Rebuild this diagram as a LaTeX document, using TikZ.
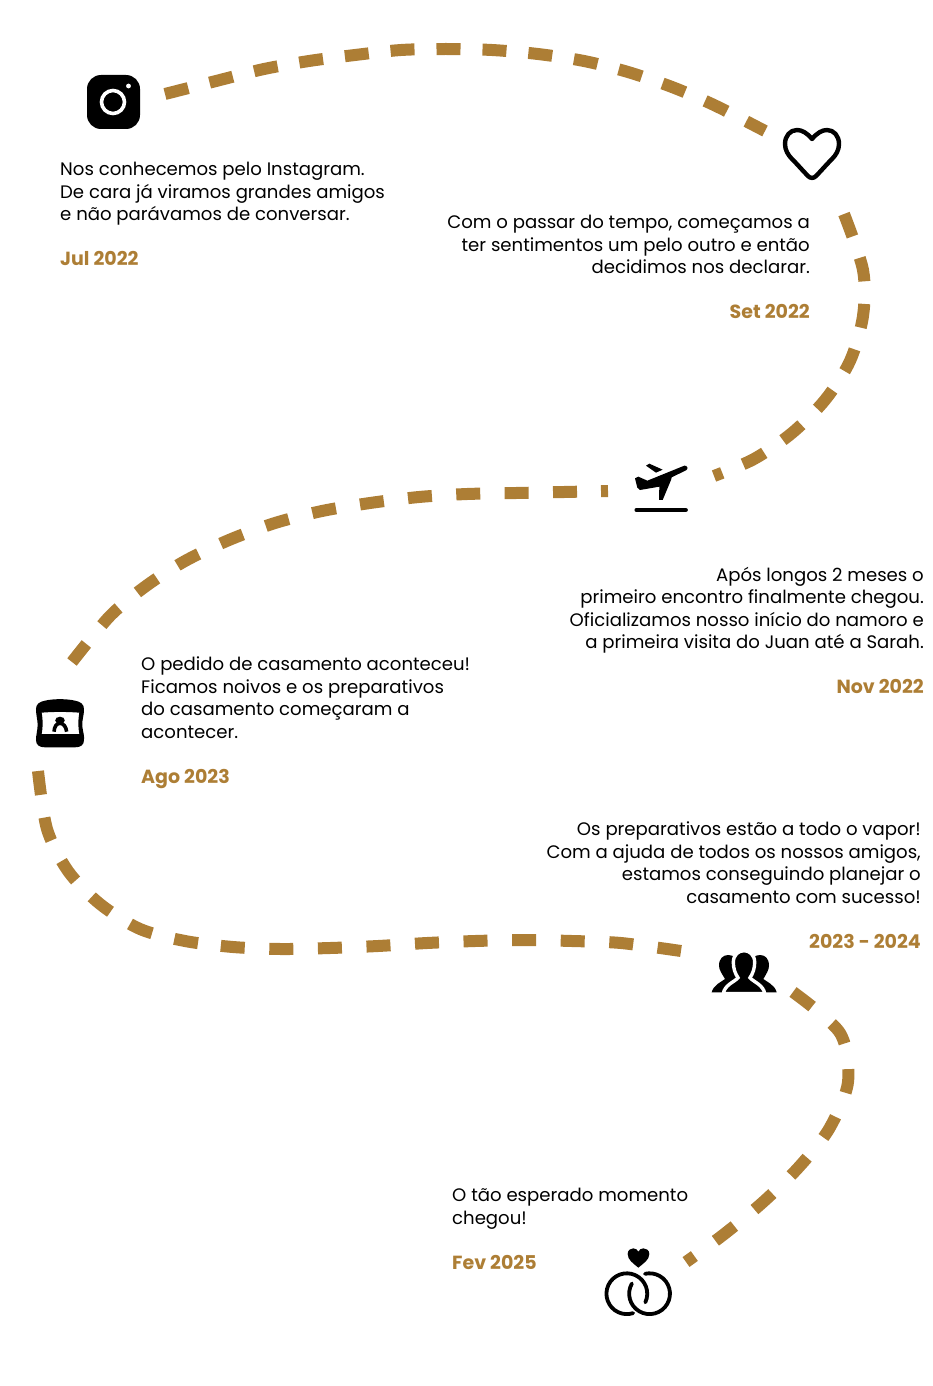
\documentclass[tikz,border=0pt]{standalone}
\usepackage{fontspec}
\setmainfont{Poppins}
\usepackage{xcolor}
\definecolor{trailgold}{HTML}{AD7E35}
\begin{document}
\begin{tikzpicture}[x=1pt,y=-1pt,line cap=butt,
  trail/.style={trailgold,line width=12pt,dash pattern=on 24pt off 22pt},
  story/.style={inner sep=0pt,font=\fontsize{18.1}{22.5}\selectfont},
  storyleft/.style={story,anchor=north west,align=left},
  storyright/.style={story,anchor=north east,align=right},
  dateleft/.style={storyleft,text=trailgold,font=\fontsize{19}{22.5}\selectfont\bfseries},
  dateright/.style={storyright,text=trailgold,font=\fontsize{19}{22.5}\selectfont\bfseries},
  icon/.style={black,line cap=round,line join=round}]
\useasboundingbox (0,0) rectangle (933,1386);
% trail
\coordinate (insta) at (165,94);
\coordinate (heart) at (765,131);
\coordinate (heartb) at (844,214);
\coordinate (plane) at (714,476);
\coordinate (planeb) at (608,491);
\coordinate (box) at (72,662);
\coordinate (boxb) at (38,771);
\coordinate (people) at (681,951);
\coordinate (peopleb) at (793,992);
\coordinate (rings) at (686,1262);
\draw[trail] plot[smooth] coordinates {(insta) (220,80) (264,69) (309,61) (355,55) (401,50) (446,49) (492,50) (538,54) (584,61) (628,72) (672,87) (714,105) (heart)};
\draw[trail,dash pattern=on 24pt off 22.6pt] plot[smooth] coordinates {(heartb) (863,270) (863,316) (850,361) (825,400) (792,433) (754,459) (plane)};
\draw[trail,dash pattern=on 7pt off 24pt on 24pt off 24.4pt on 24pt off 24.4pt on 24pt off 24.4pt on 24pt off 24.4pt on 24pt off 24.4pt on 24pt off 24.4pt on 24pt off 24.4pt on 24pt off 24.4pt on 24pt off 24.4pt on 24pt off 24.4pt on 24pt off 24.4pt on 24pt off 24.4pt on 24pt off 24.4pt] plot[smooth] coordinates {(planeb) (564,492) (516,493) (467,494) (419,497) (370,503) (322,511) (275,523) (229,540) (185,561) (146,586) (110,616) (box)};
\draw[trail,dash pattern=on 24pt off 23pt on 24pt off 23pt on 24pt off 23pt on 24pt off 23pt on 24pt off 23pt on 24pt off 23pt on 24pt off 24.6pt on 24pt off 24.6pt on 24pt off 24.6pt on 24pt off 24.6pt on 24pt off 24.6pt on 24pt off 24.6pt on 24pt off 24.6pt on 24pt off 24.6pt on 24pt off 24.6pt on 24pt off 24.6pt] plot[smooth] coordinates {(boxb) (47,829) (68,871) (100,904) (140,929) (185,941) (233,947) (281,949) (330,948) (378,946) (427,943) (475,941) (524,940) (572,941) (621,943) (people)};
\draw[trail,dash pattern=on 24pt off 26pt] plot[smooth] coordinates {(peopleb) (840,1033) (848,1082) (829,1129) (798,1168) (762,1203) (723,1235) (rings)};
% texts
\node[storyleft] (jul) at (60,162) {Nos conhecemos pelo Instagram.\\De cara já viramos grandes amigos\\e não parávamos de conversar.};
\node[dateleft] (juldate) at (60,251) {Jul 2022};
\node[storyright] (set) at (810,215) {Com o passar do tempo, começamos a\hspace{5pt}\\ter sentimentos um pelo outro e então\\decidimos nos declarar.};
\node[dateright] (setdate) at (810,304) {Set 2022};
\node[storyright] (nov) at (924,567) {Após longos 2 meses o\\primeiro encontro finalmente chegou.\\Oficializamos nosso início do namoro e\\a primeira visita do Juan até a Sarah.};
\node[dateright] (novdate) at (924,679) {Nov 2022};
\node[storyleft] (ago) at (141,657) {O pedido de casamento aconteceu!\\Ficamos noivos e os preparativos\\do casamento começaram a\\acontecer.};
\node[dateleft] (agodate) at (141,769) {Ago 2023};
\node[storyright] (prep) at (921,822) {Os preparativos estão a todo o vapor!\\Com a ajuda de todos os nossos amigos,\\estamos conseguindo planejar o\\casamento com sucesso!};
\node[dateright] (prepdate) at (921,934) {2023 - 2024};
\node[storyleft] (fev) at (452,1188) {O tão esperado momento\\chegou!};
\node[dateleft] (fevdate) at (452,1255) {Fev 2025};
% instagram
\fill[black,rounded corners=14pt] (87,75) rectangle (140,129);
\draw[white,line width=3.6pt] (113,102) circle (11.5pt);
\fill[white] (128.5,86) circle (2.4pt);
% heart
\draw[icon,line width=4.4pt] (812,139) .. controls (807,133) and (802,130) .. (797,130) .. controls (790,130) and (785,136) .. (785,144) .. controls (785,150) and (788,155) .. (792,159) .. controls (798,165) and (803,171) .. (808,176) .. controls (810,178.5) and (814,178.5) .. (816,176) .. controls (821,171) and (826,165) .. (832,159) .. controls (836,155) and (839,150) .. (839,144) .. controls (839,136) and (834,130) .. (827,130) .. controls (822,130) and (817,133) .. (812,139) -- cycle;
% plane
\begin{scope}[shift={(590,445)},x=0.3333pt,y=-0.3333pt]
\fill[icon] (135,100) -- (145,95) -- (172,107) -- (283,62) .. controls (292,60) and (296,72) .. (288,76) -- (245,97) -- (243,105) -- (218,165) -- (207,165) -- (208,125) -- (150,135) -- (142,128) -- cycle;
\fill[icon] (168,62) -- (178,56) -- (218,74) -- (198,83) -- cycle;
\draw[icon,line width=4.5pt] (140,195) -- (287,195);
\end{scope}
% ring box
\begin{scope}[shift={(20,685)},x=0.3333pt,y=-0.3333pt]
\fill[black,even odd rule] (75,47) .. controls (100,41) and (140,41) .. (165,47) .. controls (182,50) and (192,58) .. (192,72) .. controls (192,95) and (185,105) .. (187,125) .. controls (190,145) and (193,150) .. (192,165) .. controls (192,180) and (182,187) .. (165,187) -- (75,187) .. controls (58,187) and (48,180) .. (48,165) .. controls (48,150) and (52,140) .. (53,120) .. controls (53,105) and (48,90) .. (48,72) .. controls (48,58) and (58,50) .. (75,47) -- cycle
 (65,83) .. controls (100,80) and (140,80) .. (178,83) .. controls (174,105) and (174,125) .. (178,147) -- (65,147) .. controls (69,125) and (69,105) .. (65,83) -- cycle;
\fill[black] (120,106) ellipse (4.8pt and 3.6pt);
\draw[icon,line width=3.6pt,line cap=butt] (102,140) .. controls (103,124) and (110,115) .. (120,115) .. controls (130,115) and (138,124) .. (140,140);
\end{scope}
% people
\begin{scope}[shift={(695,935)},x=0.3333pt,y=-0.3333pt]
\fill[black] (50,172) .. controls (55,150) and (80,140) .. (90,132) .. controls (82,118) and (72,105) .. (72,92) .. controls (72,70) and (85,60) .. (100,60) .. controls (115,60) and (130,70) .. (130,92) -- (130,172) -- cycle;
\fill[black] (245,172) .. controls (240,150) and (215,140) .. (205,132) .. controls (213,118) and (222,105) .. (222,92) .. controls (222,70) and (210,60) .. (195,60) .. controls (180,60) and (165,70) .. (165,92) -- (165,172) -- cycle;
\fill[black,draw=white,line width=3.4pt] (85,176) .. controls (88,150) and (120,140) .. (129,128) .. controls (120,115) and (115,100) .. (115,82) .. controls (115,60) and (130,47) .. (147,47) .. controls (164,47) and (179,60) .. (179,82) .. controls (179,100) and (174,115) .. (165,128) .. controls (174,140) and (206,150) .. (209,176) -- cycle;
\fill[white] (40,173) rectangle (255,185);
\end{scope}
% rings
\begin{scope}[shift={(590,1235)},x=0.3333pt,y=-0.3333pt]
\fill[black] (145,98) .. controls (130,85) and (113,75) .. (113,57) .. controls (113,45) and (122,40) .. (130,40) .. controls (137,40) and (142,44) .. (145,50) .. controls (148,44) and (153,40) .. (160,40) .. controls (168,40) and (178,45) .. (178,57) .. controls (178,75) and (160,85) .. (145,98) -- cycle;
\draw[icon,line width=3.8pt] (166,202) arc[start angle=-25,delta angle=313,radius=20.4pt];
\draw[icon,line width=3.8pt] (125.7,145.5) arc[start angle=150,delta angle=313,radius=20.4pt];
\end{scope}
\end{tikzpicture}
\end{document}
